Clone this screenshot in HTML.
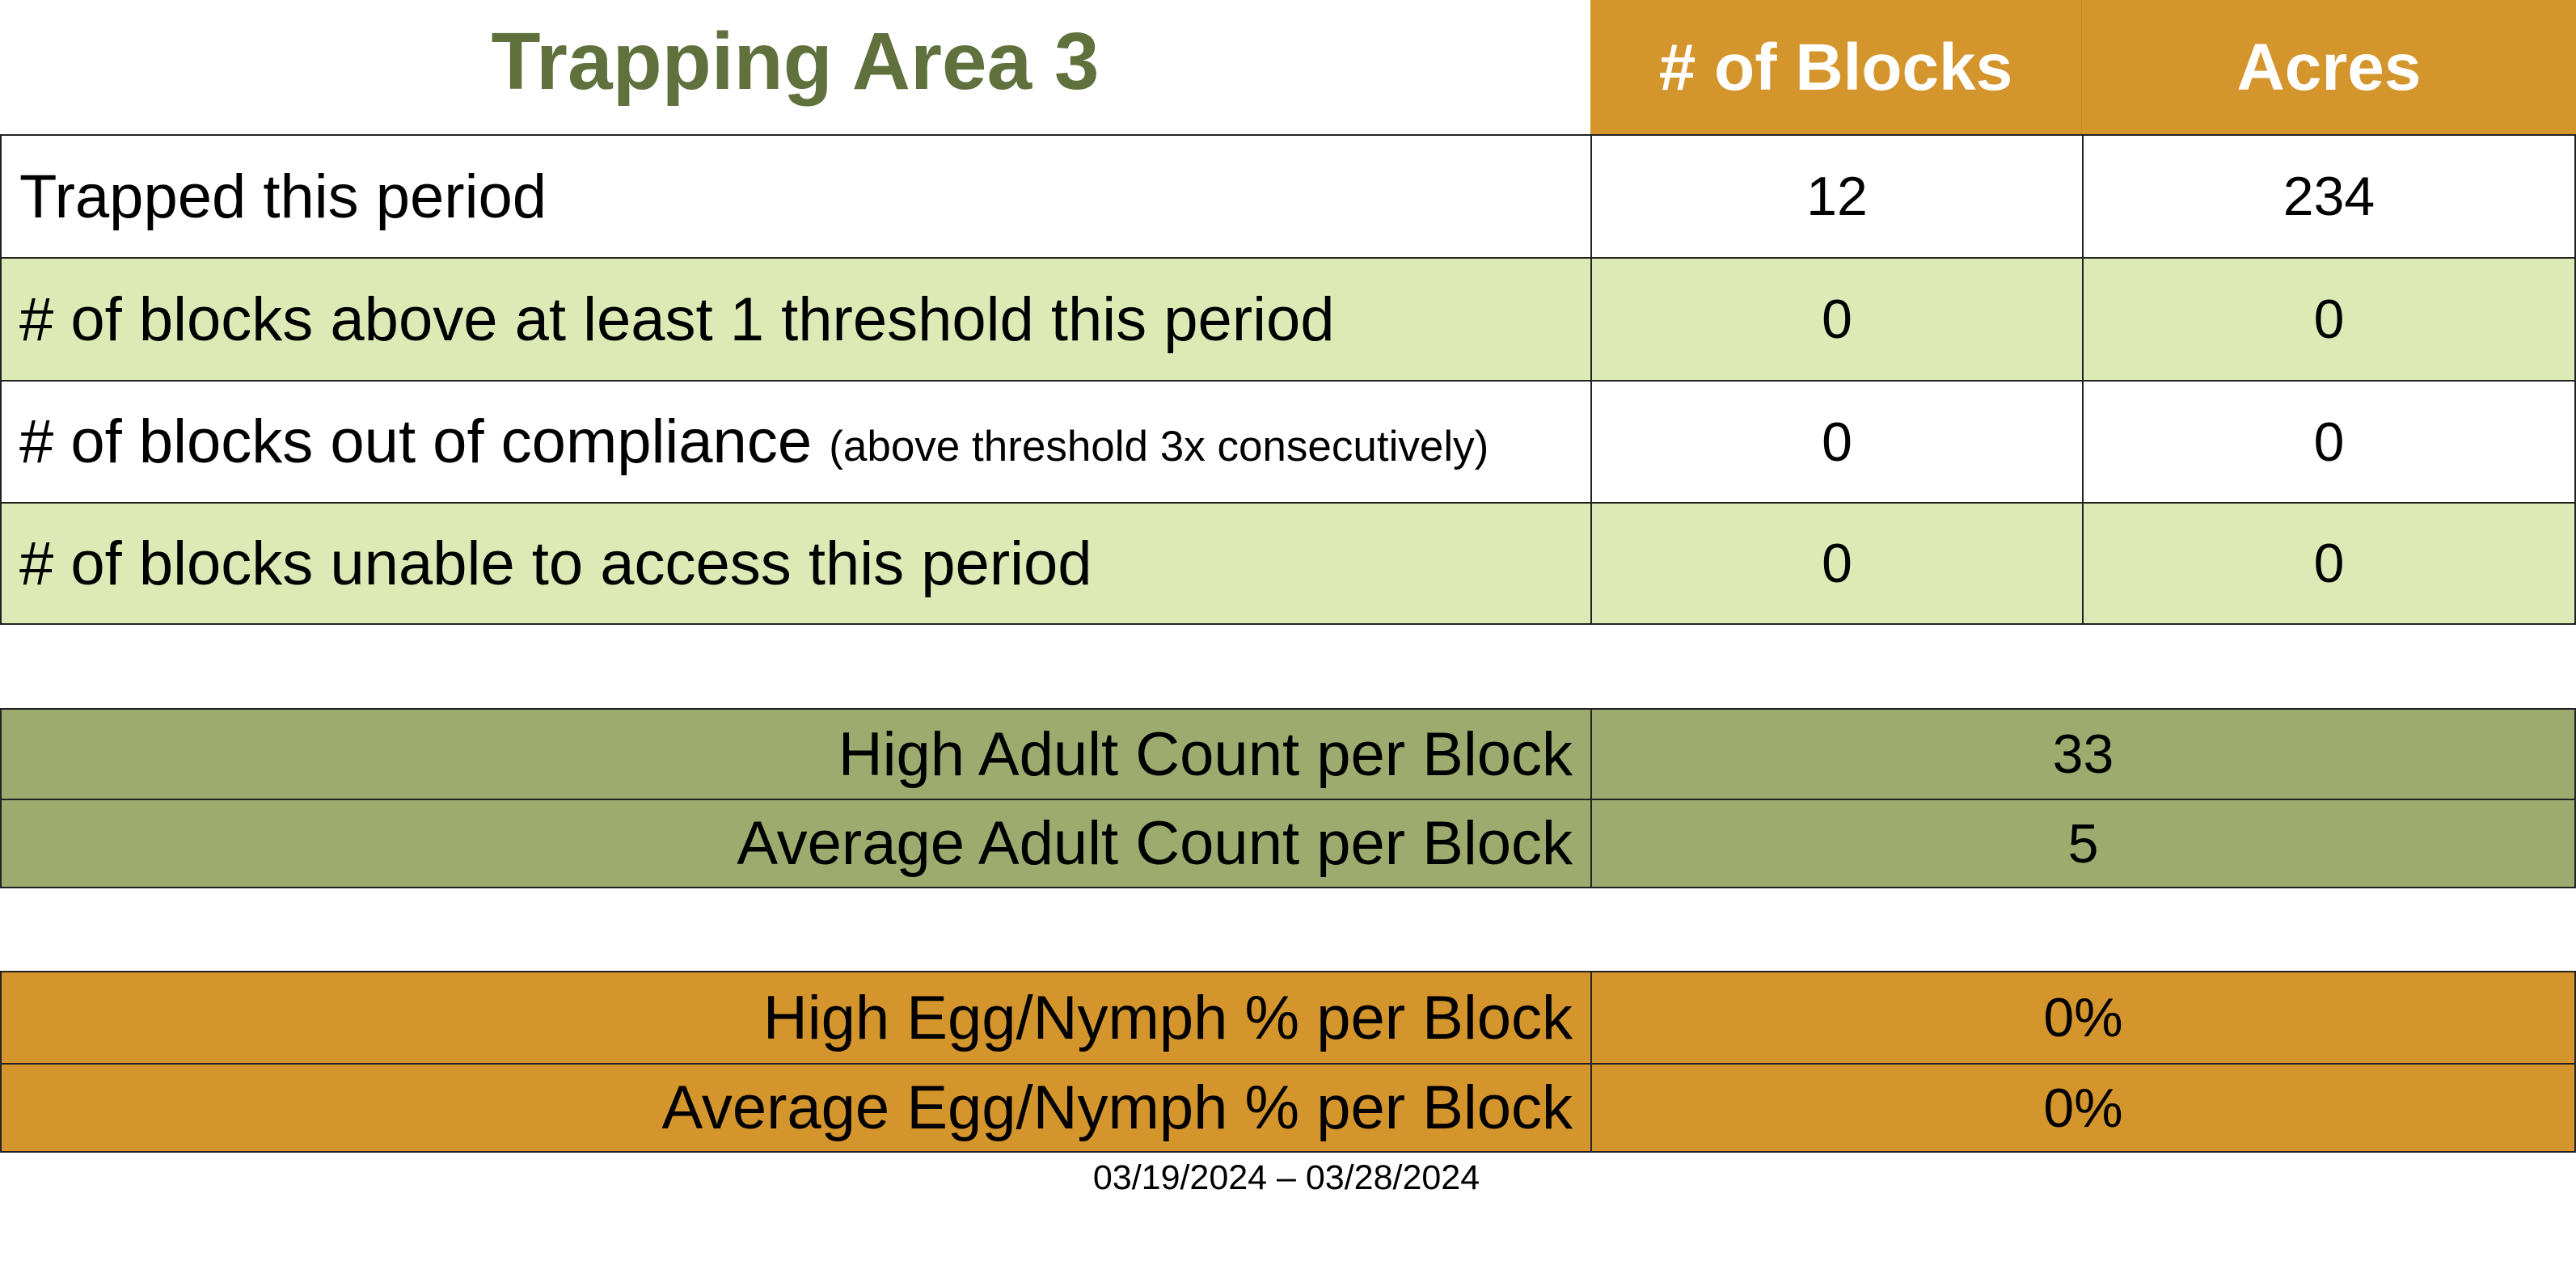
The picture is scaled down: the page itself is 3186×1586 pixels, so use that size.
<!DOCTYPE html>
<html><head><meta charset="utf-8"><style>
body{margin:0;width:3186px;height:1586px;background:#fff;position:relative;overflow:hidden;font-family:"Liberation Sans",sans-serif;}
.c{position:absolute;box-sizing:border-box;display:flex;align-items:center;white-space:nowrap;color:#000;}
.n{justify-content:center;font-size:68px;}
.l{padding-left:22px;font-size:76px;}
.r{justify-content:flex-end;padding-right:22px;font-size:76px;}
.b{border:2px solid #222;}
.g{background:#deeab6;}
.o{background:#d4952c;}
.k{background:#9eab6e;}
</style></head><body>
<div class="c" style="left:0;top:0;width:1967px;height:167px;justify-content:center;font-size:100px;font-weight:bold;color:#60713e;padding-bottom:15px">Trapping Area 3</div>
<div class="c o n" style="left:1967px;top:0;width:608px;height:167px;color:#fff;font-weight:bold;font-size:82px;border-right:1px solid #c98a25">#&nbsp;of Blocks</div>
<div class="c o n" style="left:2575px;top:0;width:611px;height:167px;color:#fff;font-weight:bold;font-size:82px">Acres</div>

<div class="c b l" style="left:0;top:166px;width:1969px;height:154px">Trapped this period</div>
<div class="c b n" style="left:1967px;top:166px;width:610px;height:154px">12</div>
<div class="c b n" style="left:2575px;top:166px;width:611px;height:154px">234</div>

<div class="c b l g" style="left:0;top:318px;width:1969px;height:154px"># of blocks above at least 1 threshold this period</div>
<div class="c b n g" style="left:1967px;top:318px;width:610px;height:154px">0</div>
<div class="c b n g" style="left:2575px;top:318px;width:611px;height:154px">0</div>

<div class="c b l" style="left:0;top:470px;width:1969px;height:153px"># of blocks out of compliance&nbsp;<span style="font-size:53px;padding-top:12px">(above threshold 3x consecutively)</span></div>
<div class="c b n" style="left:1967px;top:470px;width:610px;height:153px">0</div>
<div class="c b n" style="left:2575px;top:470px;width:611px;height:153px">0</div>

<div class="c b l g" style="left:0;top:621px;width:1969px;height:152px"># of blocks unable to access this period</div>
<div class="c b n g" style="left:1967px;top:621px;width:610px;height:152px">0</div>
<div class="c b n g" style="left:2575px;top:621px;width:611px;height:152px">0</div>

<div class="c b r k" style="left:0;top:876px;width:1969px;height:114px">High Adult Count per Block</div>
<div class="c b n k" style="left:1967px;top:876px;width:1219px;height:114px">33</div>
<div class="c b r k" style="left:0;top:988px;width:1969px;height:111px">Average Adult Count per Block</div>
<div class="c b n k" style="left:1967px;top:988px;width:1219px;height:111px">5</div>

<div class="c b r o" style="left:0;top:1201px;width:1969px;height:116px">High Egg/Nymph % per Block</div>
<div class="c b n o" style="left:1967px;top:1201px;width:1219px;height:116px">0%</div>
<div class="c b r o" style="left:0;top:1315px;width:1969px;height:111px">Average Egg/Nymph % per Block</div>
<div class="c b n o" style="left:1967px;top:1315px;width:1219px;height:111px">0%</div>

<div class="c" style="left:1291px;top:1432px;width:600px;height:50px;justify-content:center;font-size:43px">03/19/2024 – 03/28/2024</div>
</body></html>
